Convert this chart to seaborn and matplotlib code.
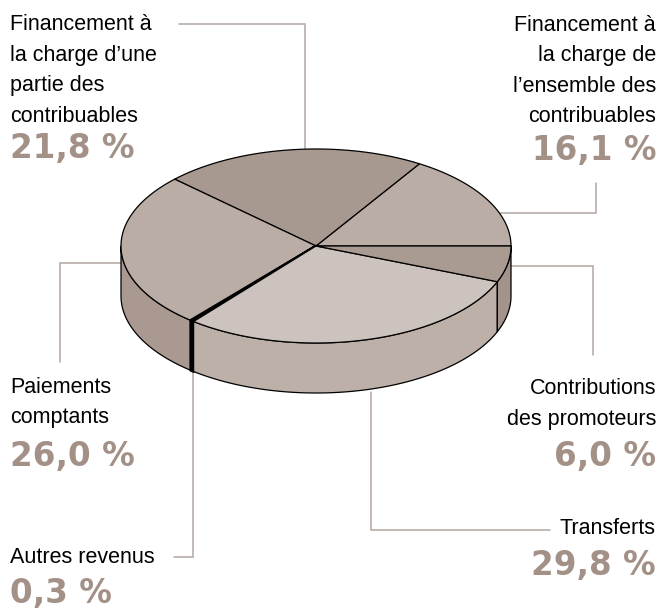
import numpy as np
import matplotlib
matplotlib.use("Agg")
import matplotlib.pyplot as plt
import seaborn as sns
from matplotlib.patches import Polygon

# --- data (counter-clockwise from 3 o'clock) ---
labels = [
    "Financement à\nla charge de\nl\u2019ensemble des\ncontribuables",
    "Financement à\nla charge d\u2019une\npartie des\ncontribuables",
    "Paiements\ncomptants",
    "Autres revenus",
    "Transferts",
    "Contributions\ndes promoteurs",
]
values = [16.1, 21.8, 26.0, 0.3, 29.8, 6.0]
top_colors = ["#b9ada5", "#a89990", "#b9ada5", "#000000", "#ccc3be", "#a99b92"]
side_colors = ["#a99a91", "#a99a91", "#a99991", "#000000", "#bdb0a8", "#a3938a"]

pct_color = "#a39188"
line_color = "#b3a7a1"

sns.set_theme(style="white")
plt.rcParams["font.family"] = ["Liberation Sans", "DejaVu Sans"]

fig = plt.figure(figsize=(6.62, 6.09), dpi=100)
ax = fig.add_axes([0, 0, 1, 1])
ax.set_xlim(0, 662)
ax.set_ylim(609, 0)
ax.axis("off")

# pie geometry (pixels)
cx, cy, rx, ry, depth = 316, 246, 195, 97, 50

bounds = np.concatenate([[0], np.cumsum(values)]) / 100 * 360


def arc(a0, a1, dy=0):
    t = np.radians(np.linspace(a0, a1, max(3, int(abs(a1 - a0) * 2))))
    return np.column_stack([cx + rx * np.cos(t), cy + dy - ry * np.sin(t)])


# side walls (front half only: 180..360 deg)
for i in range(len(values)):
    a0, a1 = max(bounds[i], 180), min(bounds[i + 1], 360)
    if a1 <= a0:
        continue
    top = arc(a0, a1)
    bot = arc(a0, a1, depth)[::-1]
    lw = 2.0 if values[i] < 1 else 0.9
    ax.add_patch(Polygon(np.vstack([top, bot]), closed=True,
                         facecolor=side_colors[i], edgecolor="black",
                         linewidth=lw, joinstyle="round", zorder=2))

# top faces
for i in range(len(values)):
    pts = np.vstack([[cx, cy], arc(bounds[i], bounds[i + 1])])
    lw = 2.0 if values[i] < 1 else 0.9
    ax.add_patch(Polygon(pts, closed=True, facecolor=top_colors[i],
                         edgecolor="black", linewidth=lw,
                         joinstyle="round", zorder=3))

# leader lines
leaders = [
    [(500, 213), (596, 213), (596, 183)],
    [(179, 24), (305, 24), (305, 149)],
    [(121, 263), (60, 263), (60, 362)],
    [(193, 372), (193, 557), (174, 557)],
    [(371, 392), (371, 530), (550, 530)],
    [(511, 266), (593, 266), (593, 355)],
]
for pts in leaders:
    xs, ys = zip(*pts)
    ax.plot(xs, ys, color=line_color, lw=1.1, zorder=1,
            solid_joinstyle="miter")

# text blocks: (x, first baseline, alignment, pct baseline)
text_pos = [
    (656, 31, "right", 160),
    (10, 30, "left", 158),
    (10, 393, "left", 466),
    (10, 563, "left", 603),
    (656, 534, "right", 575),
    (656, 394, "right", 466),
]
line_gap = 30.5
for lab, val, (x, y0, ha, yp) in zip(labels, values, text_pos):
    for k, line in enumerate(lab.split("\n")):
        ax.text(x, y0 + k * line_gap, line, ha=ha, va="baseline",
                fontsize=15.5, color="black")
    ax.text(x, yp, f"{val:.1f} %".replace(".", ","), ha=ha, va="baseline",
            fontsize=23.5, fontweight="bold", color=pct_color,
            family="DejaVu Sans")

fig.savefig("out.png", dpi=100)
